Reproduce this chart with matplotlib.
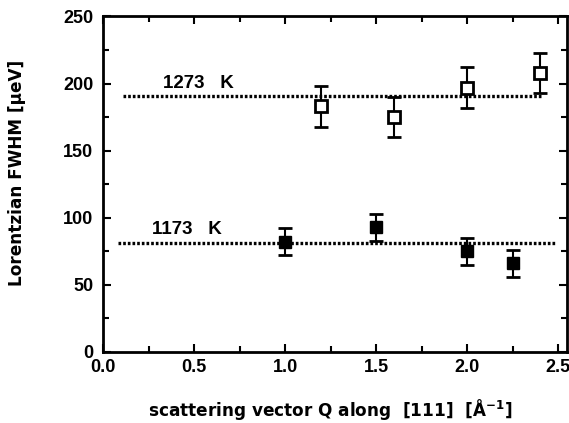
import numpy as np
import matplotlib
matplotlib.use("Agg")
import matplotlib.pyplot as plt
from matplotlib.ticker import MultipleLocator, FormatStrFormatter

# 1273 K (open squares)
q_hot = [1.2, 1.6, 2.0, 2.4]
w_hot = [183, 175, 197, 208]
e_hot = [15, 15, 15, 15]
fit_hot = 191

# 1173 K (filled squares)
q_cold = [1.0, 1.5, 2.0, 2.25]
w_cold = [82, 93, 75, 66]
e_cold = [10, 10, 10, 10]
fit_cold = 81.5

plt.rcParams['font.family'] = ['Liberation Sans', 'DejaVu Sans']
plt.rcParams['font.weight'] = 'bold'

fig = plt.figure(figsize=(5.69, 4.23), dpi=100)
ax = fig.add_axes([0.181, 0.168, 0.816, 0.793])

# fitted mean widths
ax.plot([0.11, 2.41], [fit_hot, fit_hot], color='black', lw=2.4, ls=(0, (0.8, 0.6)))
ax.plot([0.08, 2.48], [fit_cold, fit_cold], color='black', lw=2.4, ls=(0, (0.8, 0.6)))

ax.errorbar(q_hot, w_hot, yerr=e_hot, fmt='s', mfc='white', mec='black', mew=2,
            ms=9, ecolor='black', elinewidth=1.5, capsize=5, capthick=2)
ax.errorbar(q_cold, w_cold, yerr=e_cold, fmt='s', mfc='black', mec='black',
            ms=9, ecolor='black', elinewidth=1.5, capsize=5, capthick=2)

ax.text(0.33, 197, "1273   K", fontsize=13.5, fontweight='bold')
ax.text(0.27, 88, "1173   K", fontsize=13.5, fontweight='bold')

ax.set_xlim(0, 2.55)
ax.set_ylim(0, 250)
ax.xaxis.set_major_locator(MultipleLocator(0.5))
ax.xaxis.set_minor_locator(MultipleLocator(0.25))
ax.yaxis.set_major_locator(MultipleLocator(50))
ax.yaxis.set_minor_locator(MultipleLocator(25))
ax.xaxis.set_major_formatter(FormatStrFormatter('%.1f'))
ax.tick_params(which='both', direction='in', top=True, right=True, width=1.5,
               labelsize=13)
ax.tick_params(axis='x', pad=5)
ax.tick_params(axis='y', pad=7)
ax.tick_params(which='major', length=6)
ax.tick_params(which='minor', length=4)
for s in ax.spines.values():
    s.set_linewidth(2)

ax.set_xlabel("scattering vector Q along  [111]  [Å$^{\\mathbf{-1}}$]",
              fontsize=12.2, fontweight='bold', family=['DejaVu Sans'])
ax.set_ylabel("Lorentzian FWHM [µeV]", fontsize=12.2, fontweight='bold',
              family=['DejaVu Sans'])
ax.xaxis.set_label_coords(0.49, -0.135)
ax.yaxis.set_label_coords(-0.166, 0.534)

fig.savefig("out.png", dpi=100)
